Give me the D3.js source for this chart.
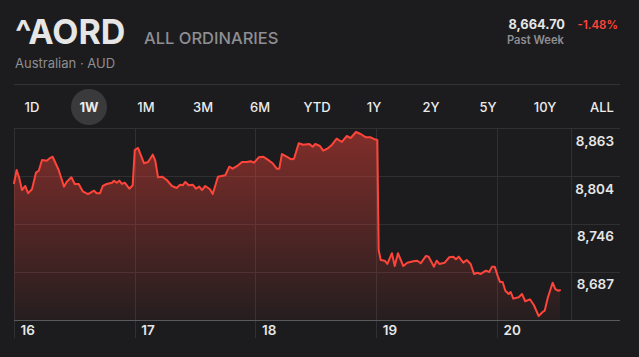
<!DOCTYPE html>
<html>
<head>
<meta charset="utf-8">
<script src="https://cdn.jsdelivr.net/npm/d3@7/dist/d3.min.js"></script>
<style>
  html, body { margin: 0; padding: 0; background: #1c1c1e; }
  svg { display: block; font-family: Inter, "Liberation Sans", Arial, sans-serif; }
</style>
</head>
<body>
<svg id="chart" width="639" height="357"></svg>
<script>
// ---- data ----
const times = [
  16.000,16.022,16.044,16.066,16.094,16.116,16.149,16.182,16.205,16.232,16.271,16.298,16.320,16.370,16.414,16.436,16.475,16.503,16.536,16.569,
  16.613,16.663,16.685,16.712,16.735,16.768,16.812,16.828,16.851,16.872,16.894,16.917,16.955,16.983,17.000,17.027,17.077,17.110,17.149,17.170,
  17.193,17.226,17.265,17.308,17.347,17.375,17.397,17.419,17.447,17.480,17.507,17.535,17.557,17.584,17.623,17.646,17.689,17.750,17.783,17.811,
  17.849,17.888,17.927,17.960,17.988,18.027,18.065,18.098,18.142,18.176,18.197,18.219,18.258,18.296,18.319,18.358,18.396,18.446,18.474,18.495,
  18.534,18.561,18.595,18.634,18.672,18.716,18.755,18.788,18.832,18.871,18.915,18.954,18.987,19.009,19.020,19.037,19.070,19.092,19.130,19.153,
  19.180,19.224,19.257,19.307,19.340,19.368,19.412,19.434,19.478,19.501,19.522,19.567,19.605,19.638,19.660,19.683,19.721,19.749,19.782,19.810,
  19.837,19.865,19.909,19.936,19.959,19.981,20.008,20.025,20.047,20.069,20.097,20.113,20.135,20.180,20.207,20.234,20.273,20.306,20.345,20.378,
  20.395,20.422,20.461,20.483,20.505,20.522
];
const prices = [
  8795.4,8811.7,8801.5,8787.2,8792.1,8783.2,8788.1,8808.4,8810.8,8823.9,8823.0,8826.3,8827.9,8811.7,8791.3,8797.0,8802.7,8794.6,8794.6,8785.6,
  8782.3,8786.4,8783.2,8783.2,8792.1,8794.6,8796.1,8798.6,8796.1,8798.6,8794.6,8796.1,8788.8,8793.0,8836.1,8838.6,8819.9,8821.4,8830.4,8823.0,
  8802.7,8803.5,8799.4,8792.1,8789.7,8793.7,8793.0,8797.0,8793.0,8793.7,8788.8,8791.3,8787.2,8792.1,8788.1,8782.3,8803.5,8805.2,8815.7,8813.3,
  8816.6,8821.4,8821.4,8822.3,8820.6,8827.2,8827.9,8824.7,8819.9,8813.3,8813.3,8831.2,8827.9,8824.7,8825.5,8844.3,8842.6,8843.4,8840.1,8843.4,
  8841.0,8835.3,8837.7,8842.6,8849.9,8845.9,8853.2,8850.8,8858.1,8855.7,8851.6,8851.6,8849.2,8848.3,8713.9,8701.7,8700.8,8696.8,8709.9,8694.3,
  8709.9,8694.3,8698.4,8700.1,8700.8,8697.6,8706.6,8705.7,8693.5,8700.8,8696.8,8698.4,8705.0,8705.7,8702.5,8705.7,8698.4,8701.7,8696.8,8684.6,
  8686.1,8684.6,8688.6,8687.0,8693.5,8693.5,8681.3,8674.8,8674.8,8664.1,8660.1,8662.6,8654.4,8656.1,8660.1,8651.2,8653.6,8646.3,8633.2,8638.1,
  8639.7,8656.1,8673.9,8665.9,8664.1,8664.7
];
const dayTicks = [16, 17, 18, 19, 20];
const priceTicks = [8863, 8804, 8746, 8687];
const ranges = ["1D","1W","1M","3M","6M","YTD","1Y","2Y","5Y","10Y","ALL"];
const selectedRange = "1W";
const symbol = "^AORD";
const fullName = "ALL ORDINARIES";
const market = "Australian · AUD";
const lastPrice = "8,664.70";
const change = "-1.48%";
const period = "Past Week";

// ---- layout ----
const svg = d3.select("#chart");
const W = 639, H = 357;
const plot = { left: 14, right: 571, top: 128, bottom: 320, gridRight: 620, labelBottom: 338 };

const x = d3.scaleLinear().domain([16, 20.613]).range([plot.left, plot.right]);
const y = d3.scaleLinear().domain([8628.3, 8863]).range([plot.bottom, plot.top]);

svg.append("rect").attr("width", W).attr("height", H).attr("fill", "#1c1c1e");

// header
svg.append("text").attr("x", 15).attr("y", 44).text(symbol)
  .attr("fill", "#e6e6e6").attr("font-size", 34).attr("font-weight", 700);
svg.append("text").attr("x", 144).attr("y", 44).text(fullName)
  .attr("fill", "#8e8e93").attr("font-size", 16.5).attr("font-weight", 500);
svg.append("text").attr("x", 15).attr("y", 68).text(market)
  .attr("fill", "#8e8e93").attr("font-size", 13);

svg.append("text").attr("x", 565).attr("y", 29).attr("text-anchor", "end").text(lastPrice)
  .attr("fill", "#e6e6e6").attr("font-size", 12.8).attr("font-weight", 700);
svg.append("text").attr("x", 618).attr("y", 29).attr("text-anchor", "end").text(change)
  .attr("fill", "#ff453a").attr("font-size", 11.5).attr("font-weight", 600);
svg.append("text").attr("x", 507).attr("y", 44).text(period)
  .attr("fill", "#8e8e93").attr("font-size", 11.2).attr("font-weight", 600);

svg.append("line").attr("x1", 14).attr("x2", 620).attr("y1", 84.5).attr("y2", 84.5)
  .attr("stroke", "#333335").attr("stroke-width", 1);

// range tabs
const tabX = d3.scalePoint().domain(ranges).range([32, 602]);
const tabs = svg.append("g");
tabs.append("circle").attr("cx", tabX(selectedRange)).attr("cy", 107).attr("r", 18).attr("fill", "#3a3a3c");
tabs.selectAll("text.tab").data(ranges).join("text")
  .attr("class", "tab")
  .attr("x", d => tabX(d)).attr("y", 112).attr("text-anchor", "middle")
  .attr("fill", "#ececec").attr("font-size", 13)
  .attr("font-weight", d => d === selectedRange ? 700 : 500)
  .text(d => d);

// gradient
const defs = svg.append("defs");
const grad = defs.append("linearGradient").attr("id", "fillGrad")
  .attr("gradientUnits", "userSpaceOnUse")
  .attr("x1", 0).attr("x2", 0).attr("y1", plot.top).attr("y2", plot.bottom);
grad.append("stop").attr("offset", "0%").attr("stop-color", "#ff453a").attr("stop-opacity", 0.45);
grad.append("stop").attr("offset", "100%").attr("stop-color", "#ff453a").attr("stop-opacity", 0.04);

// grid
const grid = svg.append("g");
grid.selectAll("line.h").data(priceTicks).join("line")
  .attr("x1", plot.left).attr("x2", plot.gridRight)
  .attr("y1", d => Math.round(y(d)) + 0.5).attr("y2", d => Math.round(y(d)) + 0.5)
  .attr("stroke", "#303032").attr("stroke-width", 1);
grid.selectAll("line.v").data(dayTicks).join("line")
  .attr("x1", d => Math.round(x(d)) + 0.5).attr("x2", d => Math.round(x(d)) + 0.5)
  .attr("y1", plot.top).attr("y2", plot.labelBottom)
  .attr("stroke", "#303032").attr("stroke-width", 1);
grid.append("line")
  .attr("x1", plot.right + 0.5).attr("x2", plot.right + 0.5)
  .attr("y1", plot.top).attr("y2", plot.bottom)
  .attr("stroke", "#303032").attr("stroke-width", 1);

const pts = times.map((t, i) => [t, prices[i]]);

// area
const area = d3.area().x(d => x(d[0])).y0(plot.bottom).y1(d => y(d[1]));
svg.append("path").datum(pts).attr("d", area).attr("fill", "url(#fillGrad)");

// baseline
svg.append("line").attr("x1", plot.left).attr("x2", plot.gridRight)
  .attr("y1", plot.bottom + 0.5).attr("y2", plot.bottom + 0.5)
  .attr("stroke", "#5a5a5c").attr("stroke-width", 1);

// line
const line = d3.line().x(d => x(d[0])).y(d => y(d[1]));
svg.append("path").datum(pts).attr("d", line)
  .attr("fill", "none").attr("stroke", "#ff453a").attr("stroke-width", 2)
  .attr("stroke-linejoin", "round").attr("stroke-linecap", "round");

// y labels (right)
const yAxis = d3.axisRight(y).tickValues(priceTicks).tickSize(0).tickPadding(0)
  .tickFormat(d3.format(",.0f"));
const ya = svg.append("g").attr("transform", `translate(${614},0)`).call(yAxis);
ya.select(".domain").remove();
ya.selectAll("text")
  .attr("text-anchor", "end").attr("dy", "0").attr("y", 17).attr("x", 0)
  .attr("fill", "#e6e6e6").attr("font-size", 13.5).attr("font-weight", 600)
  .attr("font-family", "Inter, 'Liberation Sans', Arial, sans-serif");

// x labels (days)
const xAxis = d3.axisBottom(x).tickValues(dayTicks).tickSize(0).tickPadding(0)
  .tickFormat(d3.format("d"));
const xa = svg.append("g").attr("transform", `translate(0,${plot.bottom})`).call(xAxis);
xa.select(".domain").remove();
xa.selectAll("text")
  .attr("text-anchor", "start").attr("dy", "0").attr("y", 15).attr("x", 6)
  .attr("fill", "#e6e6e6").attr("font-size", 13.5).attr("font-weight", 600)
  .attr("font-family", "Inter, 'Liberation Sans', Arial, sans-serif");
</script>
</body>
</html>
